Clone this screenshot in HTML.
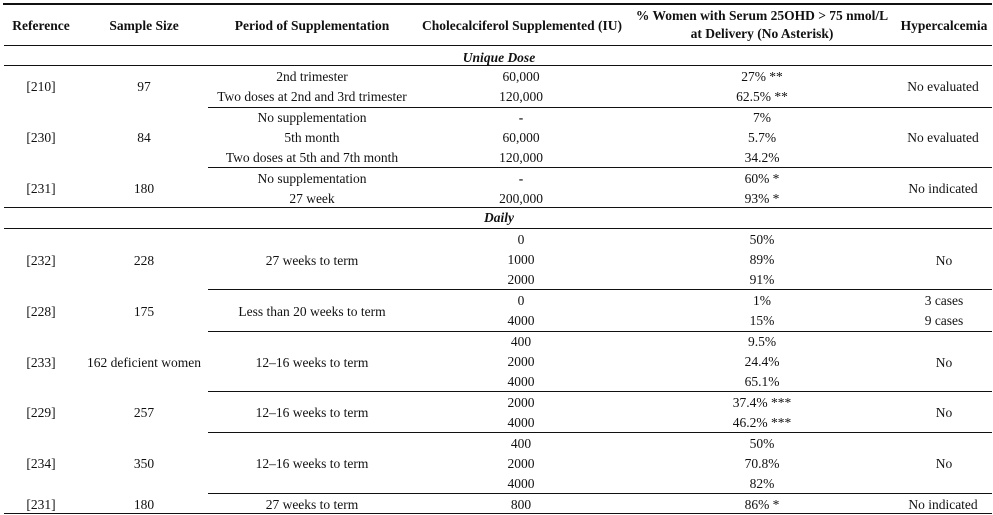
<!DOCTYPE html>
<html>
<head>
<meta charset="utf-8">
<style>
  html, body { margin:0; padding:0; background:#fff; }
  body { width:993px; height:515px; position:relative; overflow:hidden;
         font-family:"Liberation Serif", "Times New Roman", serif; color:#111; }
  .t { position:absolute; font-size:13.5px; line-height:16px; white-space:nowrap;
       transform:translateX(-50%); }
  .b { font-weight:bold; }
  .bi { font-weight:bold; font-style:italic; }
  .l { position:absolute; height:1px; background:#111; }
  .full { left:4px; width:988px; }
  .part { left:208px; width:784px; }
</style>
</head>
<body>
<!-- borders -->
<div class="l" style="left:3px;width:989px;top:3px;height:2px;"></div>
<div class="l full" style="top:45px;"></div>
<div class="l full" style="top:65px;"></div>
<div class="l part" style="top:107px;"></div>
<div class="l part" style="top:167px;"></div>
<div class="l full" style="top:207px;"></div>
<div class="l full" style="top:228px;"></div>
<div class="l part" style="top:289px;"></div>
<div class="l part" style="top:331px;"></div>
<div class="l part" style="top:391px;"></div>
<div class="l part" style="top:432px;"></div>
<div class="l part" style="top:493px;"></div>
<div class="l full" style="top:513px;"></div>

<!-- header -->
<div class="t b" style="left:41px;top:18px;">Reference</div>
<div class="t b" style="left:144px;top:18px;">Sample Size</div>
<div class="t b" style="left:312px;top:18px;">Period of Supplementation</div>
<div class="t b" style="left:522px;top:18px;">Cholecalciferol Supplemented (IU)</div>
<div class="t b" style="left:762px;top:8px;">% Women with Serum 25OHD &gt; 75 nmol/L</div>
<div class="t b" style="left:762px;top:26px;">at Delivery (No Asterisk)</div>
<div class="t b" style="left:944px;top:18px;">Hypercalcemia</div>

<div class="t bi" style="left:499px;top:50px;">Unique Dose</div>

<!-- [210] -->
<div class="t" style="left:41px;top:79px;">[210]</div>
<div class="t" style="left:144px;top:79px;">97</div>
<div class="t" style="left:312px;top:69px;">2nd trimester</div>
<div class="t" style="left:312px;top:89px;">Two doses at 2nd and 3rd trimester</div>
<div class="t" style="left:521px;top:69px;">60,000</div>
<div class="t" style="left:521px;top:89px;">120,000</div>
<div class="t" style="left:762px;top:69px;">27% **</div>
<div class="t" style="left:762px;top:89px;">62.5% **</div>
<div class="t" style="left:943px;top:79px;">No evaluated</div>

<!-- [230] -->
<div class="t" style="left:41px;top:130px;">[230]</div>
<div class="t" style="left:144px;top:130px;">84</div>
<div class="t" style="left:312px;top:110px;">No supplementation</div>
<div class="t" style="left:312px;top:130px;">5th month</div>
<div class="t" style="left:312px;top:150px;">Two doses at 5th and 7th month</div>
<div class="t b" style="left:521px;top:110px;">-</div>
<div class="t" style="left:521px;top:130px;">60,000</div>
<div class="t" style="left:521px;top:150px;">120,000</div>
<div class="t" style="left:762px;top:110px;">7%</div>
<div class="t" style="left:762px;top:130px;">5.7%</div>
<div class="t" style="left:762px;top:150px;">34.2%</div>
<div class="t" style="left:943px;top:130px;">No evaluated</div>

<!-- [231] -->
<div class="t" style="left:41px;top:181px;">[231]</div>
<div class="t" style="left:144px;top:181px;">180</div>
<div class="t" style="left:312px;top:171px;">No supplementation</div>
<div class="t" style="left:312px;top:191px;">27 week</div>
<div class="t b" style="left:521px;top:171px;">-</div>
<div class="t" style="left:521px;top:191px;">200,000</div>
<div class="t" style="left:762px;top:171px;">60% *</div>
<div class="t" style="left:762px;top:191px;">93% *</div>
<div class="t" style="left:943px;top:181px;">No indicated</div>

<div class="t bi" style="left:499px;top:210px;">Daily</div>

<!-- [232] -->
<div class="t" style="left:41px;top:253px;">[232]</div>
<div class="t" style="left:144px;top:253px;">228</div>
<div class="t" style="left:312px;top:253px;">27 weeks to term</div>
<div class="t" style="left:521px;top:232px;">0</div>
<div class="t" style="left:521px;top:252px;">1000</div>
<div class="t" style="left:521px;top:272px;">2000</div>
<div class="t" style="left:762px;top:232px;">50%</div>
<div class="t" style="left:762px;top:252px;">89%</div>
<div class="t" style="left:762px;top:272px;">91%</div>
<div class="t" style="left:944px;top:253px;">No</div>

<!-- [228] -->
<div class="t" style="left:41px;top:304px;">[228]</div>
<div class="t" style="left:144px;top:304px;">175</div>
<div class="t" style="left:312px;top:304px;">Less than 20 weeks to term</div>
<div class="t" style="left:521px;top:293px;">0</div>
<div class="t" style="left:521px;top:313px;">4000</div>
<div class="t" style="left:762px;top:293px;">1%</div>
<div class="t" style="left:762px;top:313px;">15%</div>
<div class="t" style="left:944px;top:293px;">3 cases</div>
<div class="t" style="left:944px;top:313px;">9 cases</div>

<!-- [233] -->
<div class="t" style="left:41px;top:355px;">[233]</div>
<div class="t" style="left:144px;top:355px;">162 deficient women</div>
<div class="t" style="left:312px;top:355px;">12–16 weeks to term</div>
<div class="t" style="left:521px;top:334px;">400</div>
<div class="t" style="left:521px;top:354px;">2000</div>
<div class="t" style="left:521px;top:374px;">4000</div>
<div class="t" style="left:762px;top:334px;">9.5%</div>
<div class="t" style="left:762px;top:354px;">24.4%</div>
<div class="t" style="left:762px;top:374px;">65.1%</div>
<div class="t" style="left:944px;top:355px;">No</div>

<!-- [229] -->
<div class="t" style="left:41px;top:405px;">[229]</div>
<div class="t" style="left:144px;top:405px;">257</div>
<div class="t" style="left:312px;top:405px;">12–16 weeks to term</div>
<div class="t" style="left:521px;top:395px;">2000</div>
<div class="t" style="left:521px;top:415px;">4000</div>
<div class="t" style="left:762px;top:395px;">37.4% ***</div>
<div class="t" style="left:762px;top:415px;">46.2% ***</div>
<div class="t" style="left:944px;top:405px;">No</div>

<!-- [234] -->
<div class="t" style="left:41px;top:456px;">[234]</div>
<div class="t" style="left:144px;top:456px;">350</div>
<div class="t" style="left:312px;top:456px;">12–16 weeks to term</div>
<div class="t" style="left:521px;top:436px;">400</div>
<div class="t" style="left:521px;top:456px;">2000</div>
<div class="t" style="left:521px;top:476px;">4000</div>
<div class="t" style="left:762px;top:436px;">50%</div>
<div class="t" style="left:762px;top:456px;">70.8%</div>
<div class="t" style="left:762px;top:476px;">82%</div>
<div class="t" style="left:944px;top:456px;">No</div>

<!-- [231] daily -->
<div class="t" style="left:41px;top:497px;">[231]</div>
<div class="t" style="left:144px;top:497px;">180</div>
<div class="t" style="left:312px;top:497px;">27 weeks to term</div>
<div class="t" style="left:521px;top:497px;">800</div>
<div class="t" style="left:762px;top:497px;">86% *</div>
<div class="t" style="left:943px;top:497px;">No indicated</div>
</body>
</html>
